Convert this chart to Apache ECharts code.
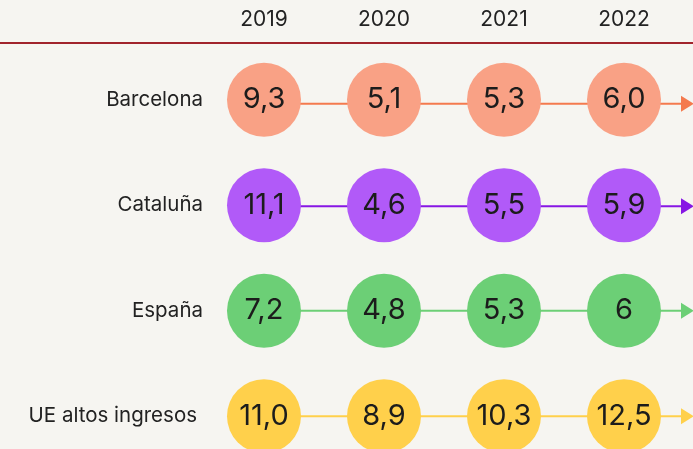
<!DOCTYPE html>
<html>
<head>
<meta charset="utf-8">
<script src="https://cdn.jsdelivr.net/npm/echarts@6/dist/echarts.min.js"></script>
<style>
html,body{margin:0;padding:0;background:#f6f5f1;overflow:hidden;width:693px;height:449px;}
#chart{width:693px;height:470px;}
</style>
</head>
<body>
<div id="chart"></div>
<script>
var years = ['2019', '2020', '2021', '2022'];
var regions = ['Barcelona', 'Cataluña', 'España', 'UE altos ingresos'];
var barcelona = ['9,3', '5,1', '5,3', '6,0'];
var cataluna = ['11,1', '4,6', '5,5', '5,9'];
var espana = ['7,2', '4,8', '5,3', '6'];
var ueAltos = ['11,0', '8,9', '10,3', '12,5'];

var rows = [barcelona, cataluna, espana, ueAltos];
var circleColors = ['#f9a185', '#b15af8', '#6ccf76', '#ffd04b'];
var lineColors = ['#f47a4e', '#8716e4', '#6ccf76', '#ffd04b'];
var lineShift = [4, 1, 0, 0];
var labelPadRight = [0, 0, 0, 6];

var chart = echarts.init(document.getElementById('chart'), null, {renderer: 'canvas'});

var series = [];
rows.forEach(function (vals, r) {
  series.push({
    type: 'custom',
    z: 1,
    silent: true,
    data: [[0, r, 3]],
    renderItem: function (params, api) {
      var y = api.value(1);
      var p0 = api.coord([years[api.value(0)], regions[y]]);
      var p1 = api.coord([years[api.value(2)], regions[y]]);
      var cs = params.coordSys;
      var tip = cs.x + cs.width + 10;
      var base = tip - 13;
      var c = lineColors[r];
      var ly = p1[1] + lineShift[r];
      return {
        type: 'group',
        children: [
          {type: 'line', shape: {x1: p0[0], y1: ly, x2: base + 1, y2: ly},
           style: {stroke: c, lineWidth: 2}},
          {type: 'polygon', shape: {points: [[base, ly - 8], [tip, ly], [base, ly + 8]]},
           style: {fill: c}}
        ]
      };
    }
  });
  series.push({
    type: 'scatter',
    z: 2,
    symbol: 'circle',
    symbolSize: 74,
    itemStyle: {color: circleColors[r], opacity: 1},
    label: {
      show: true,
      position: 'inside',
      formatter: function (p) { return p.data[2]; },
      fontFamily: 'Inter',
      fontSize: 29,
      color: '#1c1c1c'
    },
    data: vals.map(function (v, i) { return [years[i], regions[r], v]; })
  });
});

chart.setOption({
  backgroundColor: '#f6f5f1',
  animation: false,
  grid: {left: 204, top: 47, right: 9, bottom: 1},
  xAxis: {
    type: 'category',
    position: 'top',
    data: years,
    axisLine: {show: false},
    axisTick: {show: false},
    splitLine: {show: false},
    axisLabel: {fontFamily: 'Inter', fontSize: 21, color: '#222', margin: 17}
  },
  yAxis: {
    type: 'category',
    inverse: true,
    data: regions.map(function (name, i) {
      return {value: name, textStyle: {padding: [0, labelPadRight[i], 0, 0]}};
    }),
    axisLine: {show: false},
    axisTick: {show: false},
    splitLine: {show: false},
    axisLabel: {fontFamily: 'Inter', fontSize: 20.5, color: '#222', margin: 1}
  },
  graphic: [{
    type: 'line',
    shape: {x1: 0, y1: 43, x2: 693, y2: 43},
    style: {stroke: '#a1242c', lineWidth: 2},
    z: 10
  }],
  series: series
});
</script>
</body>
</html>
